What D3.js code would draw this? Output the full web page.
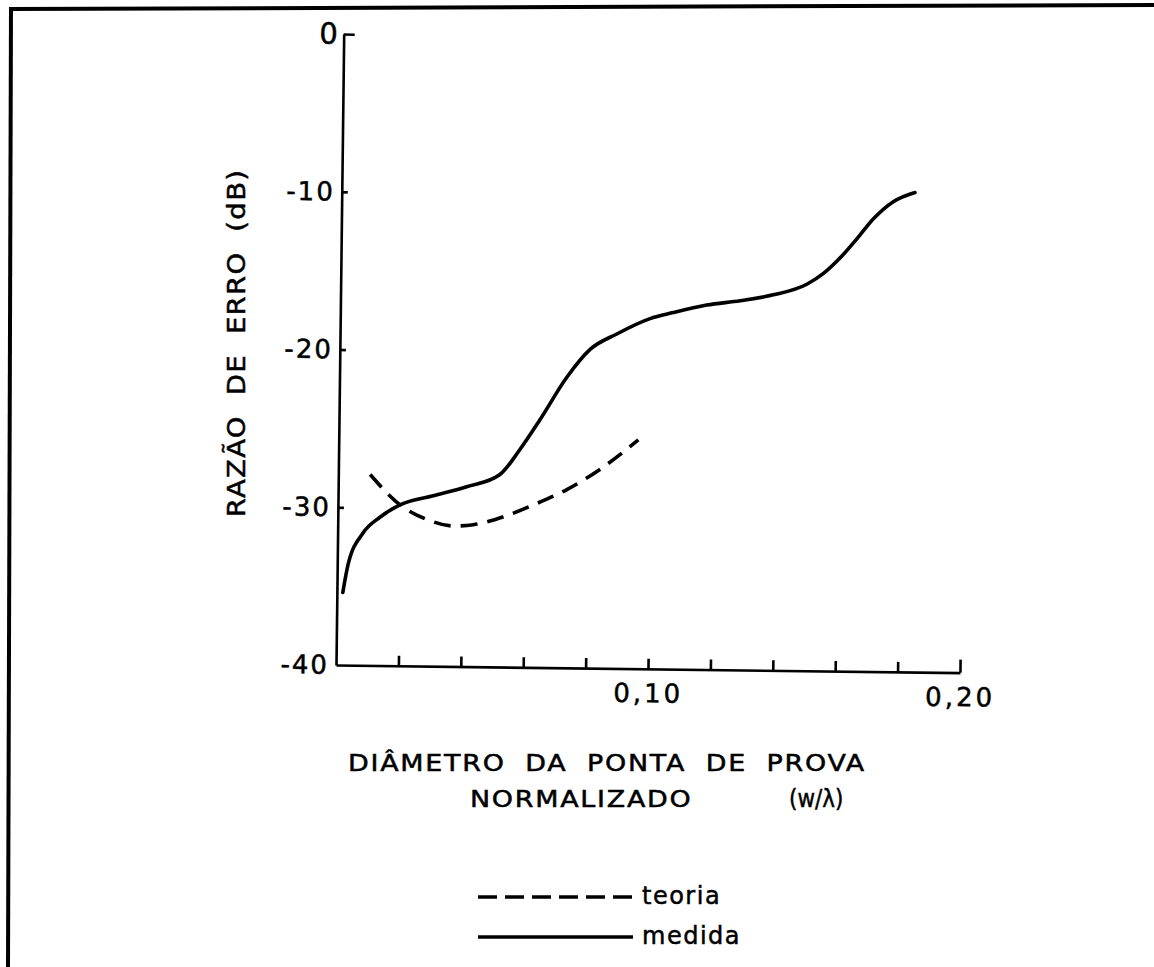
<!DOCTYPE html>
<html>
<head>
<meta charset="utf-8">
<script src="https://cdn.jsdelivr.net/npm/d3@7"></script>
<style>
  html, body { margin: 0; padding: 0; background: #fff; }
  svg { display: block; }
  text { font-family: "DejaVu Sans", sans-serif; fill: #000; stroke: #000; stroke-width: 0.5px; }
</style>
</head>
<body>
<svg id="chart" width="1154" height="967"></svg>
<script>
// Normalised probe diameter (w/lambda) and error ratio (dB)
const medidaX = [0.0019, 0.0035, 0.0082, 0.0135, 0.0199, 0.0305, 0.0412, 0.0518, 0.0581, 0.0644, 0.0728, 0.0802, 0.0887, 0.0993, 0.1067, 0.1174, 0.1281, 0.1387, 0.1494, 0.1547, 0.1600, 0.1652, 0.1705, 0.1768, 0.1837];
const medidaY = [-35.4, -33.6, -31.6, -30.6, -29.8, -29.2, -28.6, -27.8, -26.2, -24.3, -21.6, -19.8, -18.8, -17.8, -17.4, -16.9, -16.6, -16.2, -15.5, -14.8, -13.8, -12.6, -11.3, -10.2, -9.6];
const teoriaX = [0.0102, 0.0199, 0.0285, 0.0371, 0.0435, 0.0541, 0.0626, 0.0733, 0.0838, 0.0960];
const teoriaY = [-27.9, -29.8, -30.7, -31.1, -31.0, -30.4, -29.7, -28.7, -27.4, -25.5];

const xTicks = [0.02, 0.04, 0.06, 0.08, 0.10, 0.12, 0.14, 0.16, 0.18, 0.20];
const xTickLabels = { "0.1": "0,10", "0.2": "0,20" };
const yTicks = [-40, -30, -20, -10, 0];
const yTickLabels = ["-40", "-30", "-20", "-10", "0"];
const legendLabels = ["teoria", "medida"];

const svg = d3.select("#chart");

// page frame (top and left edges)
svg.append("line").attr("x1", 9).attr("y1", 9).attr("x2", 1154).attr("y2", 5)
  .attr("stroke", "#000").attr("stroke-width", 4);
svg.append("line").attr("x1", 11).attr("y1", 7).attr("x2", 8).attr("y2", 967)
  .attr("stroke", "#000").attr("stroke-width", 4);

// plot area, anchored at the axis origin, drawn slightly skewed like the original sheet
const g = svg.append("g").attr("transform", "translate(336,665) rotate(0.7)");

const x = d3.scaleLinear().domain([0, 0.20]).range([0, 624]);
const y = d3.scaleLinear().domain([-40, 0]).range([0, -631]);

// x axis with inward ticks
const xAxis = g.append("g")
  .call(d3.axisBottom(x).tickValues(xTicks).tickSize(-10).tickSizeOuter(0).tickPadding(15)
    .tickFormat(d => xTickLabels[String(+d.toFixed(2))] || ""));
xAxis.select(".domain").attr("stroke-width", 2.6).attr("stroke", "#000");
xAxis.selectAll(".tick line").attr("stroke-width", 2.6).attr("stroke", "#000");
xAxis.selectAll(".tick line").filter(d => d === 0.20).attr("y2", -13);
xAxis.selectAll(".tick text").attr("font-size", 26).attr("letter-spacing", 3)
  .attr("font-family", "DejaVu Sans").attr("fill", "#000");

// y axis with inward ticks
const yAxis = g.append("g")
  .call(d3.axisLeft(y).tickValues(yTicks).tickSize(-6).tickSizeOuter(0).tickPadding(7)
    .tickFormat((d, i) => yTickLabels[i]));
yAxis.select(".domain").attr("stroke-width", 2.6).attr("stroke", "#000");
yAxis.selectAll(".tick line").attr("stroke-width", 2.6).attr("stroke", "#000");
yAxis.selectAll(".tick line").filter(d => d === -40).remove();
yAxis.selectAll(".tick line").filter(d => d === 0).attr("x2", 11);
yAxis.selectAll(".tick text").attr("font-size", 26).attr("letter-spacing", 2)
  .attr("font-family", "DejaVu Sans").attr("fill", "#000");
yAxis.selectAll(".tick text").filter(d => d === 0)
  .attr("font-size", 29).attr("x", -6).attr("letter-spacing", 0);

// curves
const line = d3.line().x(d => x(d[0])).y(d => y(d[1])).curve(d3.curveMonotoneX);
g.append("path").datum(d3.zip(medidaX, medidaY))
  .attr("d", line).attr("fill", "none").attr("stroke", "#000")
  .attr("stroke-width", 3.6).attr("stroke-linecap", "round");
g.append("path").datum(d3.zip(teoriaX, teoriaY))
  .attr("d", line).attr("fill", "none").attr("stroke", "#000")
  .attr("stroke-width", 3.6).attr("stroke-dasharray", "17 10");

// axis titles (lettering is drawn slightly wide)
svg.append("text").attr("transform", "translate(245,343) rotate(-90) scale(1.1,1)")
  .attr("text-anchor", "middle").attr("font-size", 25).attr("letter-spacing", 1.2)
  .attr("word-spacing", 9).text("RAZÃO DE ERRO (dB)");

svg.append("text").attr("transform", "translate(348,771) scale(1.17,1)")
  .attr("font-size", 23).attr("letter-spacing", 1.5).attr("word-spacing", 8)
  .text("DIÂMETRO DA PONTA DE PROVA");
svg.append("text").attr("transform", "translate(470,807) scale(1.17,1)")
  .attr("font-size", 23).attr("letter-spacing", 1.5)
  .text("NORMALIZADO");
svg.append("text").attr("transform", "translate(789,807) scale(0.86,1)")
  .attr("font-size", 25)
  .text("(w/λ)");

// legend
const legend = svg.append("g");
const legendRows = legend.selectAll("g").data(legendLabels).join("g")
  .attr("transform", (d, i) => `translate(478,${897 + i * 40})`);
legendRows.append("line").attr("x1", 0).attr("x2", 155).attr("y1", 0).attr("y2", 0)
  .attr("stroke", "#000").attr("stroke-width", 3.6)
  .attr("stroke-dasharray", (d, i) => i === 0 ? "19 8" : null);
legendRows.append("text").attr("x", 164).attr("y", 7)
  .attr("font-size", 24).attr("letter-spacing", 1.5).text(d => d);
</script>
</body>
</html>
